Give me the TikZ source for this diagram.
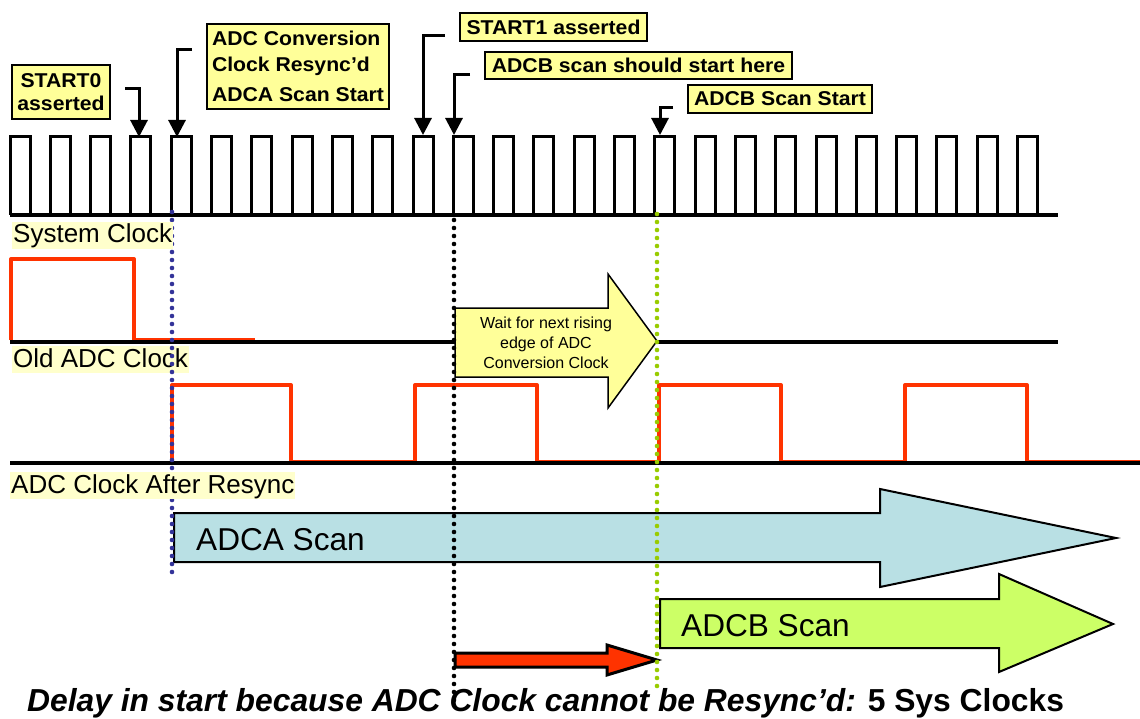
\documentclass[tikz,border=0pt]{standalone}
\usepackage{fontspec}
\setmainfont{Liberation Sans}
\newfontfamily\lblfont[FakeStretch=1.06]{Liberation Sans}
\usetikzlibrary{arrows.meta}
\definecolor{lbly}{HTML}{FFFF99}
\definecolor{sigbg}{HTML}{FFFFCC}
\definecolor{wred}{HTML}{FF3300}
\definecolor{scanA}{HTML}{B9E0E4}
\definecolor{scanB}{HTML}{CCFF66}
\definecolor{dblue}{HTML}{333399}
\definecolor{dgreen}{HTML}{99CC00}
\begin{document}
\begin{tikzpicture}[x=1pt,y=-1pt,
  callout/.style={draw=black, line width=1.5pt, fill=lbly, inner sep=0pt, font=\lblfont\bfseries\fontsize{20}{24}\selectfont},
  pointer/.style={draw=black, line width=3pt, -{Triangle[width=17pt,length=17pt]}},
  siglabel/.style={fill=sigbg, anchor=base west, inner xsep=1pt, inner ysep=0pt, text height=21pt, text depth=6pt, font=\fontsize{26}{30}\selectfont},
  clk/.style={line width=3pt, line join=miter},
  wave/.style={wred, line width=4pt, line join=round},
  lowwave/.style={wred, line width=2pt},
  baseln/.style={black, line width=4pt},
  dots/.style={line width=4.6pt, line cap=round, dash pattern=on 0pt off 8pt},
  bigarrow/.style={draw=black, line width=2pt, line join=miter},
  scantext/.style={anchor=base west, inner sep=0pt, font=\fontsize{31.6}{36}\selectfont},
]
\useasboundingbox (0,0) rectangle (1140,719);

% System clock
\draw[clk] (10,215) \foreach \k in {0,...,25} { -- ({10+40.3*\k},215) -- ({10+40.3*\k},137) -- ({30+40.3*\k},137) -- ({30+40.3*\k},215) } -- (1058,215);
\draw[baseln] (10,215) -- (1058,215);

% Old ADC clock
\draw[wave] (11,340) -- (11,259) -- (134,259) -- (134,340);
\draw[lowwave] (134,339) -- (255,339);
\draw[baseln] (10,341.5) -- (1058,341.5);

% ADC clock after resync
\foreach \r/\f in {172/291, 415/537, 659/781, 905/1027} {
  \draw[wave] (\r,462) -- (\r,385) -- (\f,385) -- (\f,462);
}
\draw[lowwave] (291,461) -- (415,461);
\draw[lowwave] (537,461) -- (659,461);
\draw[lowwave] (781,461) -- (905,461);
\draw[lowwave] (1027,461) -- (1140,461);
\draw[baseln] (10,463.3) -- (1140,463.3);

\node[siglabel] (oldlbl) at (12,367) {Old ADC Clock};

% Wait arrow
\draw[fill=lbly, line width=1.5pt, line join=miter] (455,308) -- (608,308) -- (608,274) -- (657,341) -- (608,408) -- (608,377) -- (455,377) -- cycle;
\node[align=center, inner sep=0pt, font=\fontsize{16}{20}\selectfont] (waittxt) at (546,343) {Wait for next rising\\edge of ADC\\Conversion Clock};

% ADCA scan
\draw[bigarrow, fill=scanA] (174,513) -- (880,513) -- (880,489) -- (1116,538) -- (880,587) -- (880,562) -- (174,562) -- cycle;
\node[scantext] (adcatxt) at (196,550) {ADCA Scan};

% ADCB scan
\draw[bigarrow, fill=scanB] (660,599) -- (999,599) -- (999,574) -- (1113,624) -- (999,672) -- (999,648) -- (660,648) -- cycle;
\node[scantext] (adcbtxt) at (681,636) {ADCB Scan};

% Delay arrow
\draw[fill=wred, line width=3pt, line join=miter] (455,653) -- (607,653) -- (607,645) -- (657,660) -- (607,675) -- (607,667) -- (455,667) -- cycle;

% Dotted guides
\draw[dots, dblue] (172,212) -- (172,578);
\draw[dots, black] (454,220) -- (454,700);
\draw[dots, dgreen] (657,214) -- (657,692);

\node[siglabel] (syslbl) at (12,243) {System Clock};
\node[siglabel] (reslbl) at (10,493) {ADC Clock After Resync};

% Callouts
\node[callout, minimum width=98pt, minimum height=54pt, align=center] (s0lbl) at (61,92) {START0\\[-1pt]asserted};
\node[callout, minimum width=182pt, minimum height=85pt, align=left] (convlbl) at (298,66.5) {ADC Conversion\\[2pt]Clock Resync’d\\[6pt]ADCA Scan Start};
\node[callout, minimum width=187pt, minimum height=28pt] (s1lbl) at (553.5,27) {START1 asserted};
\node[callout, minimum width=307pt, minimum height=27pt] (shouldlbl) at (638.5,65.5) {ADCB scan should start here};
\node[callout, minimum width=184pt, minimum height=28pt] (bstartlbl) at (780,99) {ADCB Scan Start};

% Pointers
\coordinate (p0a) at (125,89);  \coordinate (p0b) at (139,137);
\coordinate (p1a) at (192,50);  \coordinate (p1b) at (177,137);
\coordinate (p2a) at (445,36);  \coordinate (p2b) at (423,135);
\coordinate (p3a) at (470,75);  \coordinate (p3b) at (454,135);
\coordinate (p4a) at (673,108); \coordinate (p4b) at (660,135);
\draw[pointer] (p0a) -| (p0b);
\draw[pointer] (p1a) -| (p1b);
\draw[pointer] (p2a) -| (p2b);
\draw[pointer] (p3a) -| (p3b);
\draw[pointer] (p4a) -| (p4b);

% Caption
\node[anchor=base west, inner sep=0pt, font=\bfseries\fontsize{31.8}{36}\selectfont] (caption) at (27,711.5) {\itshape Delay in start because ADC Clock cannot be Resync’d:\upshape{} 5 Sys Clocks};
\end{tikzpicture}
\end{document}
